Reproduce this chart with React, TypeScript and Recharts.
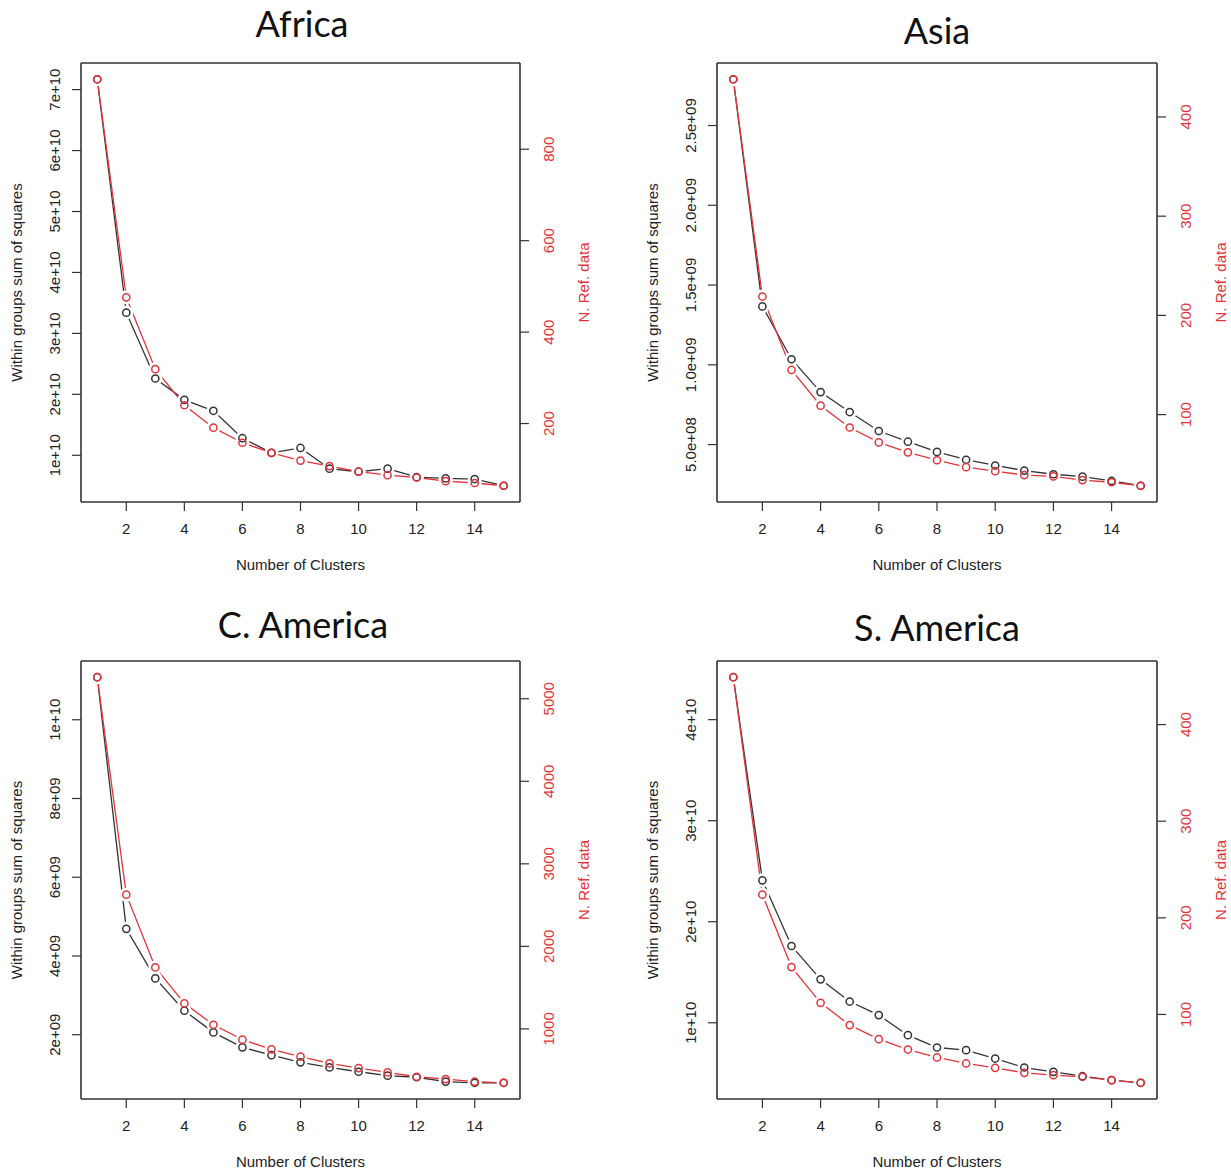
import React from "react";
import { LineChart, Line, XAxis, YAxis, ReferenceLine } from "recharts";

// number of clusters (k) and x-axis ticks, shared by all panels
const clusters = [1, 2, 3, 4, 5, 6, 7, 8, 9, 10, 11, 12, 13, 14, 15];
const xTicks = [2, 4, 6, 8, 10, 12, 14];

// Africa
const africaWss = [7.17e10, 3.34e10, 2.26e10, 1.91e10, 1.73e10, 1.28e10, 1.04e10, 1.12e10, 0.78e10, 0.73e10, 0.78e10, 0.64e10, 0.62e10, 0.61e10, 0.5e10];
const africaRef = [953, 476, 319, 240, 191, 158, 136, 119, 107, 95, 87, 82, 74, 70, 64];
const africaWssTicks = [1e10, 2e10, 3e10, 4e10, 5e10, 6e10, 7e10];
const africaWssLabels = ["1e+10", "2e+10", "3e+10", "4e+10", "5e+10", "6e+10", "7e+10"];
const africaRefTicks = [200, 400, 600, 800];

// Asia
const asiaWss = [2.79e9, 1.366e9, 1.035e9, 0.829e9, 0.704e9, 0.585e9, 0.518e9, 0.454e9, 0.405e9, 0.369e9, 0.337e9, 0.314e9, 0.299e9, 0.272e9, 0.242e9];
const asiaRef = [438, 219, 145, 109, 87, 72, 62, 54, 47, 43, 39, 37.7, 34, 31.8, 28.3];
const asiaWssTicks = [5e8, 1e9, 1.5e9, 2e9, 2.5e9];
const asiaWssLabels = ["5.0e+08", "1.0e+09", "1.5e+09", "2.0e+09", "2.5e+09"];
const asiaRefTicks = [100, 200, 300, 400];

// C. America
const cAmericaWss = [11.08e9, 4.69e9, 3.43e9, 2.61e9, 2.06e9, 1.68e9, 1.48e9, 1.3e9, 1.17e9, 1.06e9, 0.96e9, 0.92e9, 0.81e9, 0.78e9, 0.78e9];
const cAmericaRef = [5261, 2626, 1745, 1309, 1050, 869, 752, 663, 582, 525, 473, 420, 392, 360, 347];
const cAmericaWssTicks = [2e9, 4e9, 6e9, 8e9, 1e10];
const cAmericaWssLabels = ["2e+09", "4e+09", "6e+09", "8e+09", "1e+10"];
const cAmericaRefTicks = [1000, 2000, 3000, 4000, 5000];

// S. America
const sAmericaWss = [4.42e10, 2.41e10, 1.76e10, 1.43e10, 1.21e10, 1.075e10, 0.877e10, 0.755e10, 0.729e10, 0.646e10, 0.557e10, 0.514e10, 0.471e10, 0.432e10, 0.406e10];
const sAmericaRef = [449, 224, 149, 112, 89, 74.4, 63.7, 55.5, 49.3, 44.8, 39.6, 37.2, 35.5, 32, 29.3];
const sAmericaWssTicks = [1e10, 2e10, 3e10, 4e10];
const sAmericaWssLabels = ["1e+10", "2e+10", "3e+10", "4e+10"];
const sAmericaRefTicks = [100, 200, 300, 400];

const FONT = '"Liberation Sans", Arial, Helvetica, sans-serif';
const INK = "#333333";
const RED = "#e3343a";

// R's default axis range: data range padded by 4% on each side
function rRange(vals: number[]): [number, number] {
  const lo = Math.min(...vals);
  const hi = Math.max(...vals);
  const pad = (hi - lo) * 0.04;
  return [lo - pad, hi + pad];
}

const panels = [
  {
    title: "Africa", wss: africaWss, ref: africaRef,
    wssTicks: africaWssTicks, wssLabels: africaWssLabels, refTicks: africaRefTicks,
    left: 0, top: 0, width: 615, height: 600, box: [81, 63, 520, 502], titleX: 302, titleY: 37,
  },
  {
    title: "Asia", wss: asiaWss, ref: asiaRef,
    wssTicks: asiaWssTicks, wssLabels: asiaWssLabels, refTicks: asiaRefTicks,
    left: 615, top: 0, width: 616, height: 600, box: [717, 63, 1157, 502], titleX: 937, titleY: 44,
  },
  {
    title: "C. America", wss: cAmericaWss, ref: cAmericaRef,
    wssTicks: cAmericaWssTicks, wssLabels: cAmericaWssLabels, refTicks: cAmericaRefTicks,
    left: 0, top: 600, width: 615, height: 573, box: [81, 661, 520, 1099], titleX: 303, titleY: 638,
  },
  {
    title: "S. America", wss: sAmericaWss, ref: sAmericaRef,
    wssTicks: sAmericaWssTicks, wssLabels: sAmericaWssLabels, refTicks: sAmericaRefTicks,
    left: 615, top: 600, width: 616, height: 573, box: [717, 661, 1157, 1099], titleX: 937, titleY: 641,
  },
];

function RotTick(props: any) {
  const { y, payload, cx, ticks, labels, color } = props;
  const i = ticks ? ticks.indexOf(payload.value) : -1;
  const text = labels && i >= 0 ? labels[i] : String(payload.value);
  return (
    <text
      transform={`translate(${cx},${y}) rotate(-90)`}
      textAnchor="middle"
      dy="0.35em"
      fill={color}
      fontSize={15}
      fontFamily={FONT}
    >
      {text}
    </text>
  );
}

function AxisTitle(props: any) {
  const { viewBox, side, text, color } = props;
  if (!viewBox) return null;
  if (side === "bottom") {
    return (
      <text x={viewBox.x + viewBox.width / 2} y={viewBox.y + 68} textAnchor="middle" fill={color} fontSize={15} fontFamily={FONT}>
        {text}
      </text>
    );
  }
  const cx = side === "left" ? viewBox.x + viewBox.width - 64 : viewBox.x + 64;
  const cy = viewBox.y + viewBox.height / 2;
  return (
    <text transform={`translate(${cx},${cy}) rotate(-90)`} textAnchor="middle" dy="0.35em" fill={color} fontSize={15} fontFamily={FONT}>
      {text}
    </text>
  );
}

// type="b" look: white halo breaks the line around each point, then an open ring
const halo = (p: any) => <circle key={`h${p.index}`} cx={p.cx} cy={p.cy} r={7} fill="#ffffff" />;
const ring = (color: string) => (p: any) => (
  <circle key={`r${p.index}`} cx={p.cx} cy={p.cy} r={3.6} fill="none" stroke={color} strokeWidth={1.5} />
);

function ElbowPanel({ panel }: { panel: (typeof panels)[number] }) {
  const [bl, bt, br, bb] = panel.box;
  const data = clusters.map((k, i) => ({ k, wss: panel.wss[i], ref: panel.ref[i] }));
  const wssDomain = rRange(panel.wss);
  const refDomain = rRange(panel.ref);
  return (
    <div style={{ position: "absolute", left: panel.left, top: panel.top }}>
      <LineChart
        width={panel.width}
        height={panel.height}
        data={data}
        margin={{ top: bt - panel.top, right: 0, bottom: 0, left: 0 }}
      >
        <XAxis
          dataKey="k"
          type="number"
          domain={rRange(clusters)}
          ticks={xTicks}
          interval={0}
          height={panel.top + panel.height - bb}
          tickSize={9}
          tickMargin={12}
          axisLine={{ stroke: INK, strokeWidth: 1.6 }}
          tickLine={{ stroke: INK, strokeWidth: 1.2 }}
          tick={{ fill: "#222", fontSize: 15, fontFamily: FONT }}
          label={<AxisTitle side="bottom" text="Number of Clusters" color="#222" />}
        />
        <YAxis
          yAxisId="l"
          orientation="left"
          type="number"
          domain={wssDomain}
          ticks={panel.wssTicks}
          interval={0}
          width={bl - panel.left}
          tickSize={9}
          tickMargin={0}
          axisLine={{ stroke: INK, strokeWidth: 1.6 }}
          tickLine={{ stroke: INK, strokeWidth: 1.2 }}
          tick={(p: any) => (
            <RotTick {...p} cx={p.x - 17} ticks={panel.wssTicks} labels={panel.wssLabels} color="#222" />
          )}
          label={<AxisTitle side="left" text="Within groups sum of squares" color="#222" />}
        />
        <YAxis
          yAxisId="r"
          orientation="right"
          type="number"
          domain={refDomain}
          ticks={panel.refTicks}
          interval={0}
          width={panel.left + panel.width - br}
          tickSize={9}
          tickMargin={0}
          axisLine={{ stroke: INK, strokeWidth: 1.6 }}
          tickLine={{ stroke: INK, strokeWidth: 1.2 }}
          tick={(p: any) => <RotTick {...p} cx={p.x + 20} color={RED} />}
          label={<AxisTitle side="right" text="N. Ref. data" color={RED} />}
        />
        <ReferenceLine yAxisId="l" y={wssDomain[1]} stroke={INK} strokeWidth={1.6} />
        <Line yAxisId="l" dataKey="wss" stroke={INK} strokeWidth={1.3} dot={false} activeDot={false} isAnimationActive={false} />
        <Line yAxisId="r" dataKey="ref" stroke={RED} strokeWidth={1.3} dot={false} activeDot={false} isAnimationActive={false} />
        <Line yAxisId="l" dataKey="wss" stroke="none" dot={halo} activeDot={false} isAnimationActive={false} />
        <Line yAxisId="r" dataKey="ref" stroke="none" dot={halo} activeDot={false} isAnimationActive={false} />
        <Line yAxisId="l" dataKey="wss" stroke="none" dot={ring(INK)} activeDot={false} isAnimationActive={false} />
        <Line yAxisId="r" dataKey="ref" stroke="none" dot={ring(RED)} activeDot={false} isAnimationActive={false} />
      </LineChart>
    </div>
  );
}

export default function App() {
  return (
    <div style={{ position: "absolute", left: 0, top: 0, width: 1231, height: 1173, background: "#fff" }}>
      {panels.map((p) => (
        <ElbowPanel key={p.title} panel={p} />
      ))}
      <svg width={1231} height={1173} style={{ position: "absolute", left: 0, top: 0, pointerEvents: "none" }}>
        {panels.map((p) => (
          <text key={p.title} x={p.titleX} y={p.titleY} textAnchor="middle" fontSize={36} fontFamily="Lato, 'Open Sans', sans-serif" fill="#111">
            {p.title}
          </text>
        ))}
      </svg>
    </div>
  );
}
